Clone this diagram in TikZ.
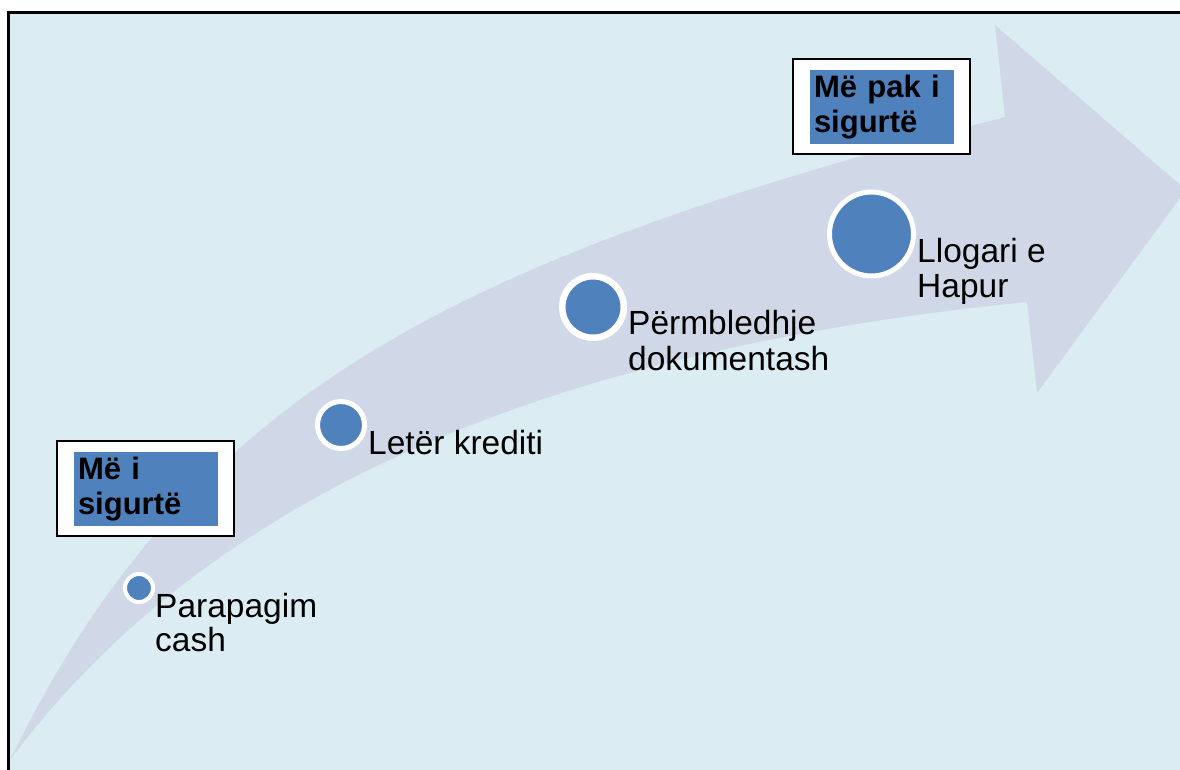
\documentclass[tikz,border=0pt]{standalone}
\usepackage{fontspec}
\setmainfont{Liberation Sans}
\definecolor{bgcol}{HTML}{DBEDF3}
\definecolor{arrowcol}{HTML}{D0D8E8}
\definecolor{dotblue}{HTML}{4F81BD}
\begin{document}
\begin{tikzpicture}[x=1pt,y=-1pt,
  dot/.style={circle,fill=dotblue,draw=white,inner sep=0pt},
  lbl/.style={inner sep=0pt,align=left,font=\fontsize{33.5}{34.5}\selectfont},
  outerbox/.style={draw=black,fill=white,line width=2.5pt,minimum width=177pt,minimum height=95pt,inner sep=0pt},
  bluebox/.style={fill=dotblue,minimum width=144pt,minimum height=74pt,inner xsep=4pt,inner ysep=0pt,text width=136pt,align=left,font=\fontsize{31}{35}\selectfont\bfseries}
]
\useasboundingbox (0,0) rectangle (1180,769);
\clip (0,0) rectangle (1180,769);
% background and frame
\fill[white] (0,0) rectangle (1180,769);
\fill[bgcol] (8.7,12.7) rectangle (1190,780);
\draw[line width=2.5pt] (8.7,780) -- (8.7,12.7) -- (1190,12.7);
% curved arrow
\fill[arrowcol] (10,760) .. controls (190,390) and (455,260) .. (1005,117)
  -- (995,25) -- (1186,190) -- (1037,393) -- (1027,302)
  .. controls (527,352) and (200,505) .. (10,760) -- cycle;
% dots
\node[dot,minimum size=28pt,line width=4pt] (c1) at (139,588) {};
\node[dot,minimum size=47pt,line width=5pt] (c2) at (341,425) {};
\node[dot,minimum size=61.5pt,line width=6.5pt] (c3) at (593,307) {};
\node[dot,minimum size=84pt,line width=5pt] (c4) at (871.5,234) {};
% labels
\node[lbl,anchor=north west] (t1) at (155,593) {Parapagim\\cash};
\node[lbl,anchor=base west] (t2) at (368,454) {Letër krediti};
\node[lbl,anchor=north west,font=\fontsize{33.5}{36}\selectfont] (t3) at (628,310) {Përmbledhje\\dokumentash};
\node[lbl,anchor=north west,font=\fontsize{33.5}{35}\selectfont] (t4) at (917,238) {Llogari e\\Hapur};
% boxes
\node[outerbox] (ob1) at (145.5,488.5) {};
\node[bluebox] (bb1) at (146,489) {Më i\\sigurtë};
\node[outerbox] (ob2) at (881.5,106.5) {};
\node[bluebox] (bb2) at (882,107) {Më pak i\\sigurtë};
\end{tikzpicture}
\end{document}
